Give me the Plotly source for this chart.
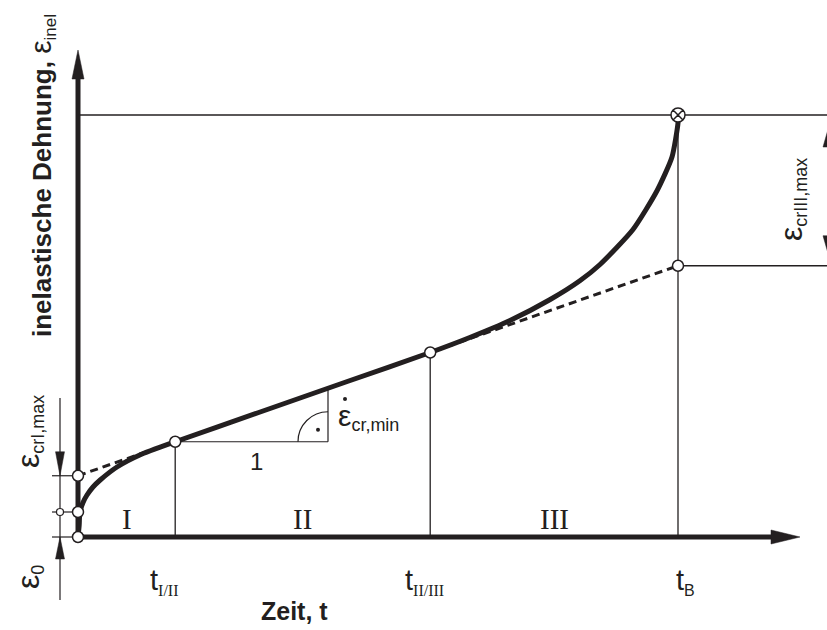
import plotly.graph_objects as go

# ---- schematic creep curve data (arbitrary units) ----
# characteristic times: end of primary, end of secondary, rupture
stage_times = [1.62, 5.87, 10.0]
stage_time_labels = ["I/II", "II/III", "B"]
stage_names = ["I", "II", "III"]

# characteristic strains
eps_zero = 1.0              # initial strain eps_0
eps_secondary_start = 2.45  # back-extrapolated secondary line at t = 0
eps_rupture = 16.88         # strain at rupture

# back-extrapolated line of minimum creep rate (dashed)
min_rate_t = [0.0, 10.0]
min_rate_eps = [2.45, 10.85]

# creep curve eps_inel(t)
creep_t = [0, 0.02, 0.03, 0.08, 0.15, 0.25, 0.37, 0.65, 1.03, 1.62, 3.0, 4.5,
           5.87, 6.53, 7.2, 7.87, 8.37, 8.7, 9.25, 9.65, 9.9, 10.0, 10.0]
creep_eps = [0, 0.48, 0.96, 1.36, 1.68, 2.0, 2.28, 2.8, 3.28, 3.81, 4.97, 6.23,
             7.38, 7.98, 8.66, 9.5, 10.26, 10.9, 12.3, 13.85, 15.2, 16.56, 16.88]

# ---- geometry of the drawing ----
W, H = 827, 630
OX, OY = 78, 537          # pixel position of the origin
PX_T, PX_E = 60.0, 25.0   # pixels per data unit
INK = "#231f20"
SANS = "Liberation Sans, Arial, sans-serif"
SERIF = "Liberation Serif, Times New Roman, serif"


def dt(px):
    """horizontal pixel distance -> time units"""
    return px / PX_T


def de(px):
    """vertical pixel distance -> strain units"""
    return px / PX_E


def line_eps(t):
    slope = (min_rate_eps[1] - min_rate_eps[0]) / (min_rate_t[1] - min_rate_t[0])
    return min_rate_eps[0] + slope * (t - min_rate_t[0])


def curve_eps_at(t):
    return creep_eps[creep_t.index(t)]


x_range = [-dt(OX), dt(W - OX)]
y_range = [-de(H - OY), de(OY)]

shapes = []


def seg(x0, y0, x1, y1, width=1.3, dash=None):
    shapes.append(dict(type="line", xref="x", yref="y", x0=x0, y0=y0, x1=x1, y1=y1,
                       line=dict(color=INK, width=width, dash=dash), layer="below"))


def head(tx, ty, direction, length_px, half_px):
    """filled arrow head with tip at (tx, ty)"""
    if direction == "right":
        pts = [(tx, ty), (tx - dt(length_px), ty + de(half_px)), (tx - dt(length_px), ty - de(half_px))]
    elif direction == "up":
        pts = [(tx, ty), (tx - dt(half_px), ty - de(length_px)), (tx + dt(half_px), ty - de(length_px))]
    else:  # down
        pts = [(tx, ty), (tx - dt(half_px), ty + de(length_px)), (tx + dt(half_px), ty + de(length_px))]
    path = "M {} {} L {} {} L {} {} Z".format(*[v for p in pts for v in p])
    shapes.append(dict(type="path", xref="x", yref="y", path=path,
                       fillcolor=INK, line=dict(color=INK, width=0.5)))


t_I, t_II, t_B = stage_times
eps_I = curve_eps_at(t_I)
eps_II = curve_eps_at(t_II)
eps_B_line = line_eps(t_B)

# main axes with arrows
seg(0, 0, dt(771 - OX), 0, width=5)
head(dt(800 - OX), 0, "right", 29, 7)
seg(0, 0, 0, de(OY - 78), width=5)
head(0, de(OY - 50), "up", 29, 6)

# thin guide lines
seg(t_I, 0, t_I, eps_I)
seg(t_II, 0, t_II, eps_II)
seg(t_B, 0, t_B, eps_rupture)
seg(0, eps_rupture, x_range[1] + 1, eps_rupture)
seg(t_B, eps_B_line, x_range[1] + 1, eps_B_line)

# dimension for eps_0 and eps_crI,max on the left
xd = -dt(OX - 60)
seg(xd, de(OY - 398), xd, -de(600 - OY), width=1.2)
for e in [0, eps_zero, eps_secondary_start]:
    seg(-dt(OX - 52), e, 0, e, width=1.2)
head(xd, eps_secondary_start, "down", 24, 4.5)
head(xd, 0, "up", 22, 4.5)

# dimension for eps_crIII,max on the right (partly beyond the frame)
xr = dt(831 - OX)
seg(xr, eps_B_line, xr, eps_rupture, width=1.2)
head(xr, eps_rupture - de(4), "up", 28, 8)
head(xr, eps_B_line + de(2), "down", 28, 8)

# slope triangle (run = 1, rise = minimum creep rate)
t_tri = dt(328 - OX)
seg(t_I, eps_I, t_tri, eps_I, width=1.2)
seg(t_tri, eps_I, t_tri, line_eps(t_tri), width=1.2)
rx, ry, k = dt(30), de(30), 0.5523
arc = "M {} {} C {} {} {} {} {} {}".format(
    t_tri - rx, eps_I, t_tri - rx, eps_I + k * ry, t_tri - k * rx, eps_I + ry, t_tri, eps_I + ry)
shapes.append(dict(type="path", xref="x", yref="y", path=arc, line=dict(color=INK, width=1.2)))

fig = go.Figure()

# dashed line of minimum creep rate
fig.add_trace(go.Scatter(x=min_rate_t, y=min_rate_eps, mode="lines",
                         line=dict(color=INK, width=3, dash="8px,5px"),
                         hoverinfo="skip", showlegend=False))
# creep curve
fig.add_trace(go.Scatter(x=creep_t, y=creep_eps, mode="lines",
                         line=dict(color=INK, width=5, shape="spline", smoothing=0.6),
                         hoverinfo="skip", showlegend=False))
# right-angle dot and rate dot above epsilon
fig.add_trace(go.Scatter(x=[t_tri - dt(10), dt(345 - OX)], y=[eps_I + de(12), de(OY - 399)],
                         mode="markers", marker=dict(color=INK, size=4),
                         hoverinfo="skip", showlegend=False))
# characteristic points
fig.add_trace(go.Scatter(
    x=[0, 0, 0, t_I, t_II, t_B],
    y=[0, eps_zero, eps_secondary_start, eps_I, eps_II, eps_B_line],
    mode="markers",
    marker=dict(symbol="circle", size=11, color="white", line=dict(color=INK, width=1.5)),
    hoverinfo="skip", showlegend=False))
fig.add_trace(go.Scatter(x=[xd], y=[eps_zero], mode="markers",
                         marker=dict(symbol="circle", size=7, color="white",
                                     line=dict(color=INK, width=1.2)),
                         hoverinfo="skip", showlegend=False))
# rupture point
fig.add_trace(go.Scatter(x=[t_B], y=[eps_rupture], mode="markers",
                         marker=dict(symbol="circle-x", size=14, color="white",
                                     line=dict(color=INK, width=1.5)),
                         hoverinfo="skip", showlegend=False))

annotations = []


def text(px, py, s, size, family=SANS, angle=0, xanchor="center", color=INK):
    annotations.append(dict(x=px / W, y=1 - py / H, xref="paper", yref="paper", text=s,
                            showarrow=False, textangle=angle, xanchor=xanchor, yanchor="middle",
                            font=dict(family=family, size=size, color=color)))


def eps(sub, big=30, small=17):
    return ("<span style='font-size:{}px'>ε</span>"
            "<sub><span style='font-size:{}px'>{}</span></sub>").format(big, small, sub)


# axis titles
text(42, 176, "<b>inelastische Dehnung,</b> " + eps("inel", 30, 17), 26, angle=-90)
text(294, 611, "<b>Zeit, t</b>", 25)

# stage names between the characteristic times
bounds = [0] + stage_times
for name, a, b in zip(stage_names, bounds[:-1], bounds[1:]):
    xm = OX + PX_T * (a + b) / 2
    text(xm, 519, name, 29, family=SERIF)

# characteristic time labels
for t, lab, off in zip(stage_times, stage_time_labels, [-11, -6, 7]):
    fam = (SERIF if "I" in lab else SANS).split(",")[0]
    text(OX + PX_T * t + off, 581,
         "t<sub><span style='font-family:{};font-size:16px'>{}</span></sub>".format(fam, lab), 29)

# slope triangle labels
text(256, 462, "1", 24)
text(336, 417, eps("cr,min", 30, 18), 24, xanchor="left")

# strain dimension labels
text(29, 432, eps("crI,max", 32, 18), 24, angle=-90)
text(29, 577, eps("0", 32, 18), 24, angle=-90)
text(792, 200, eps("crIII,max", 32, 18), 24, angle=-90)

fig.update_layout(
    width=W, height=H,
    margin=dict(l=0, r=0, t=0, b=0),
    paper_bgcolor="white", plot_bgcolor="white",
    xaxis=dict(range=x_range, visible=False, fixedrange=True),
    yaxis=dict(range=y_range, visible=False, fixedrange=True),
    shapes=shapes, annotations=annotations,
    showlegend=False,
)

fig.write_html("out.html")
